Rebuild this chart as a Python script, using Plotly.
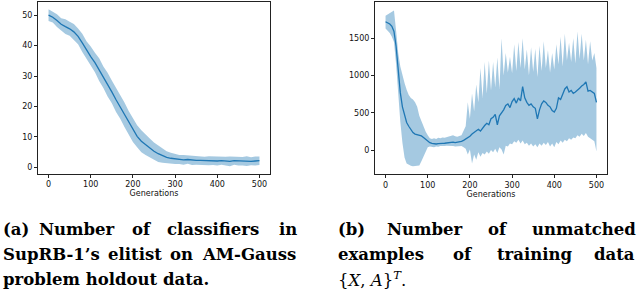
import plotly.graph_objects as go

W, H = 640, 292

# ---------------- data: panel (a) ----------------
gen_a = list(range(0, 501, 10))
mean_a = [50.0, 49.3, 48.2, 47.0, 46.2, 45.5, 44.5, 43.0, 40.9, 38.5,
          36.4, 34.4, 32.1, 29.6, 27.2, 24.8, 22.2, 19.8, 17.3, 14.6,
          12.2, 10.2, 8.6, 7.4, 6.4, 5.3, 4.5, 3.8, 3.3, 3.0,
          2.8, 2.6, 2.5, 2.6, 2.4, 2.3, 2.3, 2.2, 2.2, 2.2,
          2.1, 2.2, 2.1, 2.0, 2.2, 2.1, 2.0, 2.1, 2.0, 2.1, 2.2]
std_a = [1.9, 1.7, 2.1, 2.0, 2.4, 2.3, 2.6, 2.6, 3.0, 2.9,
         3.3, 3.2, 3.7, 3.5, 3.9, 3.7, 4.0, 3.8, 4.0, 3.9,
         3.9, 3.6, 3.6, 3.3, 3.1, 2.9, 2.7, 2.3, 2.0, 1.8,
         1.7, 1.5, 1.6, 1.4, 1.6, 1.4, 1.5, 1.3, 1.5, 1.4,
         1.5, 1.3, 1.4, 1.6, 1.3, 1.5, 1.4, 1.6, 1.3, 1.5, 1.4]

# ---------------- data: panel (b) ----------------
gen_b = list(range(0, 501, 5))
mean_b = [1720, 1705, 1690, 1660, 1590, 1390, 1080, 770, 580, 460,
          370, 320, 275, 235, 215, 210, 200, 190, 170, 145,
          125, 100, 90, 85, 82, 86, 84, 90, 92, 98,
          105, 110, 108, 100, 104, 110, 118, 130, 150, 160,
          185, 215, 240, 260, 280, 255, 300, 330, 360, 340,
          420, 440, 480, 340, 460, 500, 540, 600, 620, 570,
          650, 690, 630, 700, 660, 850, 700, 640, 600, 620,
          580, 560, 420, 540, 620, 660, 640, 600, 580, 530,
          510, 560, 700, 680, 760, 820, 850, 780, 800, 760,
          780, 800, 830, 860, 880, 915, 790, 800, 780, 760, 640]
upper_b = [1800, 1820, 1830, 1850, 1870, 1600, 1300, 1120, 1000, 900,
           810, 740, 700, 680, 640, 580, 460, 380, 310, 250,
           200, 160, 150, 160, 150, 165, 160, 170, 165, 175,
           180, 190, 200, 185, 180, 190, 200, 260, 320, 640,
           420, 760, 520, 880, 640, 1100, 700, 1180, 760, 1200,
           800, 1180, 840, 1240, 820, 1500, 1000, 1300, 1040, 1250,
           1030, 1420, 1060, 1450, 1100, 1500, 1080, 1350, 1000, 1380,
           1050, 1360, 980, 1400, 1060, 1460, 1100, 1340, 1040, 1300,
           1080, 1420, 1150, 1520, 1120, 1560, 1200, 1440, 1180, 1500,
           1160, 1590, 1220, 1560, 1200, 1480, 1150, 1460, 1200, 1300, 1100]
lower_b = [1630, 1600, 1570, 1520, 1450, 1150, 750, 380, 100, -100,
           -180, -200, -210, -215, -210, -215, -205, -150, -90, -10,
           40, 50, 45, 40, 50, 45, 55, 50, 55, 60,
           55, 60, 55, 50, 55, 50, 55, 40, 20, -60,
           10, -180, -60, -130, -30, -90, -40, -60, -20, -50,
           0, -30, 20, -40, 40, 10, -60, 60, 50, 90,
           80, 120, 100, 140, 90, 130, 80, 100, 60, 90,
           50, 80, 40, 90, 60, 100, 70, 110, 50, 90,
           40, 110, 80, 130, 100, 140, 120, 160, 140, 170,
           160, 200, 180, 220, 190, 230, 180, 160, 140, 120, -20]

xticks = [0, 100, 200, 300, 400, 500]
yticks_a = [0, 10, 20, 30, 40, 50]
yticks_b = [0, 500, 1000, 1500]

BLUE = "#1f77b4"
BAND = "rgba(31,119,180,0.4)"


def px_x(p):
    return p / W


def px_y(p):
    return 1 - p / H


fig = go.Figure()

# panel (a)
up_a = [m + s for m, s in zip(mean_a, std_a)]
lo_a = [m - s for m, s in zip(mean_a, std_a)]
fig.add_trace(go.Scatter(x=gen_a, y=up_a, mode="lines", line=dict(width=0),
                         hoverinfo="skip", showlegend=False, xaxis="x", yaxis="y"))
fig.add_trace(go.Scatter(x=gen_a, y=lo_a, mode="lines", line=dict(width=0),
                         fill="tonexty", fillcolor=BAND, hoverinfo="skip",
                         showlegend=False, xaxis="x", yaxis="y"))
fig.add_trace(go.Scatter(x=gen_a, y=mean_a, mode="lines",
                         line=dict(color=BLUE, width=1.3),
                         showlegend=False, xaxis="x", yaxis="y"))

# panel (b)
fig.add_trace(go.Scatter(x=gen_b, y=upper_b, mode="lines", line=dict(width=0),
                         hoverinfo="skip", showlegend=False, xaxis="x2", yaxis="y2"))
fig.add_trace(go.Scatter(x=gen_b, y=lower_b, mode="lines", line=dict(width=0),
                         fill="tonexty", fillcolor=BAND, hoverinfo="skip",
                         showlegend=False, xaxis="x2", yaxis="y2"))
fig.add_trace(go.Scatter(x=gen_b, y=mean_b, mode="lines",
                         line=dict(color=BLUE, width=1.3),
                         showlegend=False, xaxis="x2", yaxis="y2"))

tickfont = dict(family="DejaVu Sans", size=8, color="#111")
axis_common = dict(showline=True, linecolor="#222", linewidth=1, mirror=True,
                   ticks="outside", ticklen=3, tickwidth=0.8, tickcolor="#222",
                   showgrid=False, zeroline=False, tickfont=tickfont)

fig.update_layout(
    width=W, height=H,
    margin=dict(l=0, r=0, t=0, b=0),
    paper_bgcolor="white", plot_bgcolor="white",
    xaxis=dict(domain=[px_x(38), px_x(270)], range=[-25, 525], tickvals=xticks,
               anchor="y",
               title=dict(text="Generations", font=dict(family="DejaVu Sans", size=8, color="#111"),
                          standoff=2),
               **axis_common),
    yaxis=dict(domain=[px_y(173.5), px_y(2)], range=[-2.0, 54.3], tickvals=yticks_a,
               anchor="x", **axis_common),
    xaxis2=dict(domain=[px_x(375), px_x(607)], range=[-25, 525], tickvals=xticks,
                anchor="y2",
                title=dict(text="Generations", font=dict(family="DejaVu Sans", size=8, color="#111"),
                           standoff=2),
                **axis_common),
    yaxis2=dict(domain=[px_y(174), px_y(2)], range=[-320, 1985], tickvals=yticks_b,
                anchor="x2", **axis_common),
)

# ---------------- captions (justified, word by word) ----------------
CAP_FONT = dict(family="DejaVu Serif", size=16.5, color="black")
line_y = [229.5, 254.5, 279]

captions = [
    # (text, x pixel, anchor, line index)
    ("<b>(a)</b>", 2, "left", 0), ("<b>Number</b>", 77, "center", 0),
    ("<b>of</b>", 141, "center", 0), ("<b>classifiers</b>", 213, "center", 0),
    ("<b>in</b>", 298, "right", 0),
    ("<b>SupRB-1’s</b>", 2, "left", 1), ("<b>elitist</b>", 135, "center", 1),
    ("<b>on</b>", 181, "center", 1), ("<b>AM-Gauss</b>", 297, "right", 1),
    ("<b>problem holdout data.</b>", 2, "left", 2),
    ("<b>(b)</b>", 337, "left", 0), ("<b>Number</b>", 425, "center", 0),
    ("<b>of</b>", 497, "center", 0), ("<b>unmatched</b>", 637, "right", 0),
    ("<b>examples</b>", 337, "left", 1), ("<b>of</b>", 462, "center", 1),
    ("<b>training</b>", 535, "center", 1), ("<b>data</b>", 636, "right", 1),
    ("{<i>X</i>, <i>A</i>}<sup><i>T</i></sup>.", 337, "left", 2),
]
for txt, xp, anc, li in captions:
    fig.add_annotation(text=txt, x=px_x(xp), y=px_y(line_y[li]), xref="paper", yref="paper",
                       xanchor=anc, yanchor="middle", showarrow=False, font=CAP_FONT,
                       borderpad=0)

fig.write_html("out.html", config={"displayModeBar": False},
               post_script="document.body.style.margin='0';")
